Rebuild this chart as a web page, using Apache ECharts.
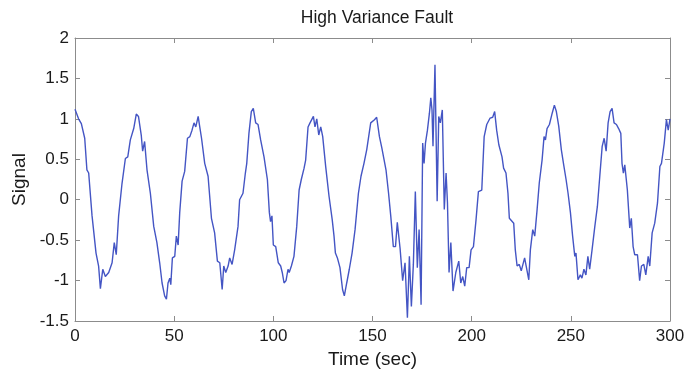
<!DOCTYPE html>
<html>
<head>
<meta charset="utf-8">
<script src="https://cdn.jsdelivr.net/npm/echarts@6/dist/echarts.min.js"></script>
<style>html,body{margin:0;padding:0;background:#fff}#c{width:689px;height:377px}</style>
</head>
<body>
<div id="c"></div>
<script>
var titleText = 'High Variance Fault';
var xName = 'Time (sec)';
var yName = 'Signal';
var xTicks = [0, 50, 100, 150, 200, 250, 300];
var yTicks = [-1.5, -1, -0.5, 0, 0.5, 1, 1.5, 2];

var times = [
0,1.8,3.2,4.9,6.0,6.9,8.6,9.6,10.6,11.9,12.8,14.0,15.3,17.0,18.7,19.8,20.8,22.0,23.7,25.4,26.6,27.9,29.6,30.9,32.0,33.4,34.1,35.1,36.3,38.0,39.7,41.3,
42.7,43.9,45.2,46.1,46.9,47.8,48.3,49.1,50.3,51.1,52.0,52.8,54.0,55.3,56.7,57.9,59.0,60.0,60.9,62.1,62.9,63.8,65.4,67.1,68.8,70.4,71.8,73.0,74.2,75.0,76.0,77.2,78.0,79.2,80.5,82.2,83.0,84.7,85.9,
86.6,87.7,88.9,89.9,91.1,92.3,93.6,95.3,97.0,98.0,98.6,99.3,100.0,101.2,102.5,103.7,104.5,105.4,106.4,107.4,108.0,109.1,110.4,111.8,113.0,114.1,115.5,116.3,117.5,118.5,119.4,120.2,121.0,121.9,122.9,123.9,124.9,126.4,128.1,129.7,130.6,
131.3,132.3,133.6,134.9,135.8,137.0,138.3,139.7,141.2,142.9,144.2,145.7,147.1,148.1,149.1,150.1,151.0,152.1,153.5,154.7,155.5,156.8,158.1,159.2,
160.5,161.6,162.5,163.9,165.2,166.4,167.6,168.6,169.6,170.6,171.6,172.6,173.5,174.5,175.3,176.0,176.7,177.7,178.7,179.4,180.0,180.5,181.5,182.6,183.4,184.2,185.2,186.2,187.1,187.8,188.6,189.5,190.6,192.0,193.5,194.5,195.5,196.5,197.5,198.7,199.7,200.9,202.2,203.4,205.1,206.3,207.6,209.3,210.6,211.6,212.6,213.7,
215.3,216.1,217.3,218.3,219.0,220.0,221.2,222.0,222.9,224.0,225.0,225.9,226.7,227.6,228.8,229.6,230.8,231.8,233.0,234.1,235.5,236.5,237.2,238.0,239.2,240.6,241.7,242.7,243.9,245.2,246.4,247.6,248.6,249.8,250.9,252.0,252.6,253.6,254.8,255.6,256.6,257.6,258.6,259.5,260.7,
262.1,263.4,264.6,265.8,266.8,267.8,268.8,269.8,270.8,271.8,273.0,274.1,275.2,275.8,276.5,277.2,278.5,279.7,280.5,281.4,282.2,283.6,284.7,285.6,286.8,287.8,289.0,289.8,291.0,292.3,293.7,294.9,295.7,297.1,298.2,299.1,300.0
];

var signal = [
1.12,1.0,0.94,0.76,0.37,0.33,-0.2,-0.22,-0.66,-0.82,-1.1,-0.86,-0.95,-0.9,-0.78,-0.53,-0.68,-0.2,0.2,0.51,0.53,0.74,0.88,1.06,1.03,0.8,0.6,0.72,0.37,0.08,-0.33,-0.53,
-0.78,-1.03,-1.19,-1.23,-1.03,-0.97,-1.05,-0.72,-0.7,-0.45,-0.56,-0.16,0.23,0.35,0.76,0.78,0.86,0.95,0.9,1.03,0.9,0.76,0.45,0.29,-0.23,-0.41,-0.76,-0.78,-1.11,-0.82,-0.9,-0.82,-0.72,-0.8,-0.62,-0.33,0,0.08,0.33,
0.45,0.82,1.09,1.13,0.95,0.93,0.74,0.53,0.25,-0.16,-0.27,-0.2,-0.56,-0.58,-0.78,-0.82,-0.9,-1.03,-1.0,-0.86,-0.9,-0.82,-0.7,-0.33,0.12,0.25,0.39,0.49,0.9,0.95,0.94,1.03,0.9,1.0,0.8,0.9,0.78,0.41,0.04,-0.25,-0.45,
-0.66,-0.72,-0.84,-1.11,-1.19,-1.03,-0.86,-0.66,-0.37,0.08,0.29,0.45,0.62,0.64,0.95,0.93,0.99,1.02,0.78,0.64,0.62,0.37,0.08,-0.2,
-0.58,-0.58,-0.28,-0.6,-1.0,-0.78,-1.46,-0.7,-1.32,-0.8,0.1,-0.84,-0.37,-1.3,0.7,0.45,0.7,0.86,1.07,1.26,1.11,0.66,1.67,-0.02,1.03,0.95,1.11,-0.12,0.33,-0.04,-0.9,-0.53,-1.13,-0.9,-0.76,-1.03,-0.95,-1.07,-0.84,-0.84,-0.62,-0.58,-0.25,0.1,0.12,0.78,0.93,1.01,1.02,1.09,0.86,0.68,
0.53,0.39,0.33,0.08,-0.23,-0.21,-0.29,-0.62,-0.82,-0.8,-0.88,-0.9,-0.72,-0.74,-0.99,-0.62,-0.37,-0.45,-0.12,0.21,0.49,0.78,0.74,0.88,0.93,1.07,1.17,1.09,0.91,0.62,0.43,0.25,0.08,-0.16,-0.45,-0.7,-0.66,-0.99,-0.93,-0.97,-0.86,-0.93,-0.7,-0.86,-0.62,
-0.33,-0.08,0.29,0.66,0.76,0.6,0.95,1.09,1.13,0.95,0.93,0.88,0.82,0.45,0.33,0.43,0.12,-0.35,-0.23,-0.58,-0.68,-0.68,-1.0,-0.82,-0.8,-0.93,-0.7,-0.82,-0.41,-0.29,-0.04,0.41,0.45,0.7,0.99,0.86,1.0
];

var points = times.map(function (t, i) { return [t, signal[i]]; });

var chart = echarts.init(document.getElementById('c'), null, {renderer: 'canvas'});
var font = 'Liberation Sans, Arial, sans-serif';
var frameColor = '#8c8c8c';
var xMin = xTicks[0], xMax = xTicks[xTicks.length - 1];
var yMin = yTicks[0], yMax = yTicks[yTicks.length - 1];

function boxAxis(pos, isX, primary) {
  var a = {
    type: 'value',
    position: pos,
    min: isX ? xMin : yMin,
    max: isX ? xMax : yMax,
    interval: isX ? 50 : 0.5,
    splitLine: {show: false},
    axisLine: {show: true, onZero: false, lineStyle: {color: frameColor, width: 1}},
    axisTick: {show: true, inside: true, length: 5, lineStyle: {color: frameColor}},
    axisLabel: {show: primary, color: '#1a1a1a', fontSize: 17, fontFamily: font, margin: isX ? 7 : 6}
  };
  if (primary) {
    a.name = isX ? xName : yName;
    a.nameLocation = 'middle';
    a.nameGap = isX ? 25 : 44;
    a.nameTextStyle = {color: '#1a1a1a', fontSize: 19, fontFamily: font};
  }
  return a;
}

chart.setOption({
  animation: false,
  backgroundColor: '#ffffff',
  title: {
    text: titleText,
    left: 372,
    top: 4,
    textAlign: 'center',
    textStyle: {color: '#1a1a1a', fontSize: 17.5, fontWeight: 'normal', fontFamily: font}
  },
  grid: {left: 75, right: 19, top: 38, bottom: 56, containLabel: false},
  xAxis: [boxAxis('bottom', true, true), boxAxis('top', true, false)],
  yAxis: [boxAxis('left', false, true), boxAxis('right', false, false)],
  series: [{
    type: 'line',
    xAxisIndex: 0,
    yAxisIndex: 0,
    data: points,
    showSymbol: false,
    symbol: 'none',
    lineStyle: {color: '#4455c4', width: 1.4},
    clip: true
  }]
});
</script>
</body>
</html>
